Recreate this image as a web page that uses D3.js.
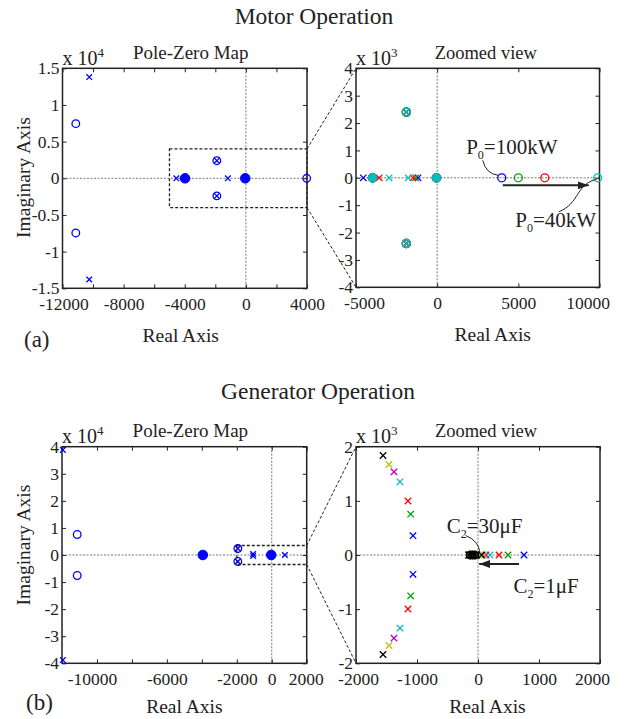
<!DOCTYPE html>
<html>
<head>
<meta charset="utf-8">
<script src="https://cdn.jsdelivr.net/npm/d3@7"></script>
<style>
  body { margin: 0; background: #fff; }
  text { font-family: "Liberation Serif", "Times New Roman", "DejaVu Serif", serif; fill: #222; }
</style>
</head>
<body>
<svg id="fig" width="634" height="719"></svg>
<script>
// ---------- data ----------
// motor operation, P0 = 100kW ... 40kW
var motorColors = ['#0000ff', '#00a000', '#ff0000', '#00bfbf']
var motorCommonPoles = [[-10250, 13800], [-10250, -13800], [-1900, 2400], [-1900, -2400]]
var motorCommonZeros = [[-11130, 7450], [-11130, -7450], [-1900, 2400], [-1900, -2400]]
var motorRealPoles = [
  [[-4550, 0], [-1180, 0]],
  [[-1330, 0]],
  [[-3570, 0], [-1490, 0]],
  [[-2960, 0], [-1780, 0]]
]
var motorRhpZeros = [[[3980, 0]], [[5000, 0]], [[6630, 0]], [[9890, 0]]]
var motorClusters = [[-3980, 0], [-40, 0]]

// generator operation, C2 = 1uF ... 30uF
var genColors = ['#0000ff', '#00a000', '#ff0000', '#00bfbf', '#bf00bf', '#bfbf00', '#000000']
var genCommonPoles = [[-11950, 38800], [-11950, -38800], [-1940, 2400], [-1940, -2400]]
var genCommonZeros = [[-11130, 7570], [-11130, -7570], [-1940, 2400], [-1940, -2400]]
var genComplexPoles = [
  [[-1066, 357], [-1066, -357]],
  [[-1104, 754], [-1104, -754]],
  [[-1148, 997], [-1148, -997]],
  [[-1279, 1351], [-1279, -1351]],
  [[-1377, 1535], [-1377, -1535]],
  [[-1459, 1671], [-1459, -1671]],
  [[-1557, 1837], [-1557, -1837]]
]
var genRealPoles = [[[754, 0]], [[492, 0]], [[344, 0]], [[197, 0]], [[130, 0]], [[95, 0]], [[60, 0]]]
var genOriginPoles = [[-150, 0], [-110, 0], [-70, 0], [-30, 0]]
var genOriginZeros = [[-130, 0], [-90, 0], [-50, 0]]
var genClusters = [[-3943, 0], [-30, 0]]

// ticks
var tlXTicks = [-12000, -10000, -8000, -6000, -4000, -2000, 0, 2000, 4000]
var tlXLabels = [-12000, -8000, -4000, 0, 4000]
var tlYTicks = [-15000, -10000, -5000, 0, 5000, 10000, 15000]
var trXTicks = [-5000, 0, 5000, 10000]
var trYTicks = [-4000, -3000, -2000, -1000, 0, 1000, 2000, 3000, 4000]
var blXTicks = [-12000, -10000, -8000, -6000, -4000, -2000, 0, 2000]
var blXLabels = [-10000, -6000, -2000, 0, 2000]
var blYTicks = [-40000, -30000, -20000, -10000, 0, 10000, 20000, 30000, 40000]
var brXTicks = [-2000, -1000, 0, 1000, 2000]
var brYTicks = [-2000, -1000, 0, 1000, 2000]

// ---------- drawing ----------
var svg = d3.select('#fig')

svg.append('defs').append('marker')
  .attr('id', 'arr')
  .attr('viewBox', '0 0 11 8')
  .attr('refX', 11).attr('refY', 4)
  .attr('markerWidth', 11).attr('markerHeight', 8)
  .attr('markerUnits', 'userSpaceOnUse')
  .attr('orient', 'auto')
  .append('path').attr('d', 'M0,0L11,4L0,8Z').attr('fill', '#222')

function panel (c) {
  var x = d3.scaleLinear().domain(c.xd).range([c.l, c.r])
  var y = d3.scaleLinear().domain(c.yd).range([c.b, c.t])
  var g = svg.append('g')

  g.append('line')
    .attr('x1', x(0)).attr('x2', x(0)).attr('y1', c.t).attr('y2', c.b)
  g.append('line')
    .attr('x1', c.l).attr('x2', c.r).attr('y1', y(0)).attr('y2', y(0))
  g.selectAll('line')
    .attr('stroke', '#777').attr('stroke-width', 1).attr('stroke-dasharray', '2,1.5')

  var xl = c.xl || c.xt
  var axes = [
    [d3.axisBottom(x).tickValues(c.xt).tickFormat(d => xl.indexOf(d) >= 0 ? String(d) : ''), 0, c.b, 9.5],
    [d3.axisTop(x).tickValues(c.xt).tickFormat(''), 0, c.t, 0],
    [d3.axisLeft(y).tickValues(c.yt).tickFormat(d => String(d / c.ex)), c.l, 0, 3],
    [d3.axisRight(y).tickValues(c.yt).tickFormat(''), c.r, 0, 0]
  ]
  axes.forEach(function (a, i) {
    var ag = g.append('g')
      .attr('transform', 'translate(' + a[1] + ',' + a[2] + ')')
      .call(a[0].tickSizeInner(-4).tickSizeOuter(0).tickPadding(a[3]))
    ag.attr('font-size', null).attr('font-family', null)
    ag.select('.domain').remove()
    ag.selectAll('line').attr('stroke', '#222').attr('stroke-width', 1)
    ag.selectAll('text').attr('font-size', 17.5).style('fill', '#222')
    if (i === 0 && c.xdx) {
      ag.selectAll('text').attr('dx', d => c.xdx[d] || 0)
    }
  })

  g.append('rect')
    .attr('x', c.l).attr('y', c.t)
    .attr('width', c.r - c.l).attr('height', c.b - c.t)
    .attr('fill', 'none').attr('stroke', '#222').attr('stroke-width', 1.5)

  g.append('text').attr('x', (c.l + c.r) / 2 + c.tdx).attr('y', c.t - 9.5)
    .attr('text-anchor', 'middle').attr('font-size', c.tfs).text(c.title)

  var ex = g.append('text').attr('x', c.l).attr('y', c.t - 3.5).attr('font-size', 20)
  ex.append('tspan').text('x 10')
  ex.append('tspan').attr('dy', -8).attr('font-size', 13).text(c.pow)

  g.append('text').attr('x', (c.l + c.r) / 2 + c.rdx).attr('y', c.b + c.rdy)
    .attr('text-anchor', 'middle').attr('font-size', 19.5).text('Real Axis')

  return { x: x, y: y, g: g, xd: c.xd, yd: c.yd }
}

function inside (p, d) {
  return d[0] >= p.xd[0] && d[0] <= p.xd[1] && d[1] >= p.yd[0] && d[1] <= p.yd[1]
}

function poles (p, pts, col, s) {
  p.g.selectAll(null).data(pts.filter(d => inside(p, d))).enter()
    .append('path')
    .attr('d', function (d) {
      var cx = p.x(d[0]), cy = p.y(d[1])
      return 'M' + (cx - s) + ',' + (cy - s) + 'L' + (cx + s) + ',' + (cy + s) +
             'M' + (cx - s) + ',' + (cy + s) + 'L' + (cx + s) + ',' + (cy - s)
    })
    .attr('fill', 'none').attr('stroke', col).attr('stroke-width', 1.3)
}

function zeros (p, pts, col, r) {
  p.g.selectAll(null).data(pts.filter(d => inside(p, d))).enter()
    .append('circle')
    .attr('cx', d => p.x(d[0])).attr('cy', d => p.y(d[1])).attr('r', r)
    .attr('fill', 'none').attr('stroke', col).attr('stroke-width', 1.3)
}

function clusters (p, pts, col, r) {
  p.g.selectAll(null).data(pts.filter(d => inside(p, d))).enter()
    .append('circle')
    .attr('cx', d => p.x(d[0])).attr('cy', d => p.y(d[1])).attr('r', r)
    .attr('fill', col).attr('stroke', col).attr('stroke-width', 1)
}

function zoomLinks (a, box, b) {
  var lines = [
    [a.x(box[1]), a.y(box[3]), b.x(b.xd[0]), b.y(b.yd[1])],
    [a.x(box[1]), a.y(box[2]), b.x(b.xd[0]), b.y(b.yd[0])]
  ]
  svg.append('rect')
    .attr('x', a.x(box[0])).attr('y', a.y(box[3]))
    .attr('width', a.x(box[1]) - a.x(box[0])).attr('height', a.y(box[2]) - a.y(box[3]))
    .attr('fill', 'none').attr('stroke', '#222').attr('stroke-width', 1.3).attr('stroke-dasharray', '3,2')
  svg.selectAll(null).data(lines).enter().append('line')
    .attr('x1', d => d[0]).attr('y1', d => d[1]).attr('x2', d => d[2]).attr('y2', d => d[3])
    .attr('stroke', '#222').attr('stroke-width', 1).attr('stroke-dasharray', '3,2')
}

function subLabel (x, y, main, sub, rest) {
  var t = svg.append('text').attr('x', x).attr('y', y).attr('font-size', 21)
  t.append('tspan').text(main)
  t.append('tspan').attr('dy', 5).attr('font-size', 12).text(sub)
  t.append('tspan').attr('dy', -5).text(rest)
}

// ----- (a) motor operation -----
svg.append('text').attr('x', 314).attr('y', 24).attr('text-anchor', 'middle')
  .attr('font-size', 23.5).text('Motor Operation')

var tl = panel({ l: 62.5, r: 307, t: 68.3, b: 288.3, xd: [-12000, 4000], yd: [-15000, 15000],
  xt: tlXTicks, xl: tlXLabels, yt: tlYTicks, ex: 1e4, pow: '4', xdx: { '-12000': 1 },
  title: 'Pole-Zero Map', tfs: 19, tdx: 6, rdx: -4, rdy: 54 })
var tr = panel({ l: 356, r: 599.5, t: 68.3, b: 287.3, xd: [-5000, 10000], yd: [-4000, 4000],
  xt: trXTicks, yt: trYTicks, ex: 1e3, pow: '3', xdx: { '-5000': 8, '10000': -12 },
  title: 'Zoomed view', tfs: 18.5, tdx: 8, rdx: 15, rdy: 54 })

clusters(tl, motorClusters, motorColors[0], 4.8)
zeros(tl, motorCommonZeros.concat(motorRhpZeros[0]), motorColors[0], 3.8)
poles(tl, motorCommonPoles.concat(motorRealPoles[0]), motorColors[0], 2.8)

motorColors.forEach(function (col, i) {
  clusters(tr, motorClusters, col, 4.3)
  zeros(tr, motorCommonZeros.concat(motorRhpZeros[i]), col, 4)
  poles(tr, motorCommonPoles.concat(motorRealPoles[i]), col, 3.2)
})

zoomLinks(tl, [-5000, 4000, -4000, 4000], tr)

var pA = [tr.x(motorRhpZeros[0][0][0]), tr.y(0)]
var pB = [tr.x(motorRhpZeros[3][0][0]), tr.y(0)]
subLabel(pA[0] - 35.6, pA[1] - 23.8, 'P', '0', '=100kW')
svg.append('path')
  .attr('d', 'M' + (pA[0] - 19) + ',' + (pA[1] - 17.5) + 'Q' + (pA[0] - 16) + ',' + (pA[1] - 4) +
        ' ' + (pA[0] - 3.5) + ',' + (pA[1] - 2.5))
  .attr('fill', 'none').attr('stroke', '#222').attr('stroke-width', 1)
svg.append('line')
  .attr('x1', pA[0] + 1).attr('y1', pA[1] + 7.5).attr('x2', pB[0] - 9).attr('y2', pB[1] + 7.5)
  .attr('stroke', '#222').attr('stroke-width', 2).attr('marker-end', 'url(#arr)')
subLabel(pB[0] - 82.4, pB[1] + 49.5, 'P', '0', '=40kW')
svg.append('path')
  .attr('d', 'M' + (pB[0] - 39) + ',' + (pB[1] + 34) + 'C' + (pB[0] - 18) + ',' + (pB[1] + 26) +
        ' ' + (pB[0] - 22) + ',' + (pB[1] + 6) + ' ' + (pB[0] - 1) + ',' + (pB[1] + 1.5))
  .attr('fill', 'none').attr('stroke', '#222').attr('stroke-width', 1)

svg.append('text').attr('x', 24).attr('y', 347).attr('font-size', 23).text('(a)')

// ----- (b) generator operation -----
svg.append('text').attr('x', 318).attr('y', 399).attr('text-anchor', 'middle')
  .attr('font-size', 23.5).text('Generator Operation')

var bl = panel({ l: 62, r: 306.7, t: 446.7, b: 663.3, xd: [-12000, 2000], yd: [-40000, 40000],
  xt: blXTicks, xl: blXLabels, yt: blYTicks, ex: 1e4, pow: '4', xdx: { '-10000': -5, '2000': -1 },
  title: 'Pole-Zero Map', tfs: 19, tdx: 6, rdx: 0, rdy: 50 })
var br = panel({ l: 356, r: 600, t: 446.7, b: 663.3, xd: [-2000, 2000], yd: [-2000, 2000],
  xt: brXTicks, yt: brYTicks, ex: 1e3, pow: '3', xdx: { '-2000': 2, '2000': -8 },
  title: 'Zoomed view', tfs: 18.5, tdx: 8, rdx: 9.5, rdy: 50 })

clusters(bl, genClusters, genColors[0], 4.8)
zeros(bl, genCommonZeros, genColors[0], 3.8)
poles(bl, genCommonPoles.concat(genComplexPoles[0], genRealPoles[0]), genColors[0], 2.8)

genColors.forEach(function (col, i) {
  zeros(br, genCommonZeros.concat(genOriginZeros), col, 3.6)
  poles(br, genCommonPoles.concat(genComplexPoles[i], genRealPoles[i], genOriginPoles), col, 3.2)
})

zoomLinks(bl, [-2000, 2000, -3500, 3500], br)

var pC = [br.x(genRealPoles[6][0][0]), br.y(0)]
var pD = [br.x(genRealPoles[0][0][0]), br.y(0)]
subLabel(pC[0] - 35, pC[1] - 21.7, 'C', '2', '=30\u03bcF')
svg.append('path')
  .attr('d', 'M' + (pC[0] - 16) + ',' + (pC[1] - 19.5) + 'Q' + (pC[0] - 3) + ',' + (pC[1] - 14) +
        ' ' + (pC[0] - 2) + ',' + (pC[1] - 3.3))
  .attr('fill', 'none').attr('stroke', '#222').attr('stroke-width', 1)
svg.append('line')
  .attr('x1', pD[0] - 5).attr('y1', pD[1] + 9).attr('x2', pC[0] - 2.5).attr('y2', pC[1] + 9)
  .attr('stroke', '#222').attr('stroke-width', 2).attr('marker-end', 'url(#arr)')
subLabel(pD[0] - 10.6, pD[1] + 38.3, 'C', '2', '=1\u03bcF')

svg.append('text').attr('x', 26).attr('y', 710).attr('font-size', 23).text('(b)')

// y axis titles
;[[29.5, 177.5], [29.5, 545]].forEach(function (d) {
  svg.append('text')
    .attr('transform', 'translate(' + d[0] + ',' + d[1] + ') rotate(-90)')
    .attr('text-anchor', 'middle').attr('font-size', 19.5).text('Imaginary Axis')
})
</script>
</body>
</html>
